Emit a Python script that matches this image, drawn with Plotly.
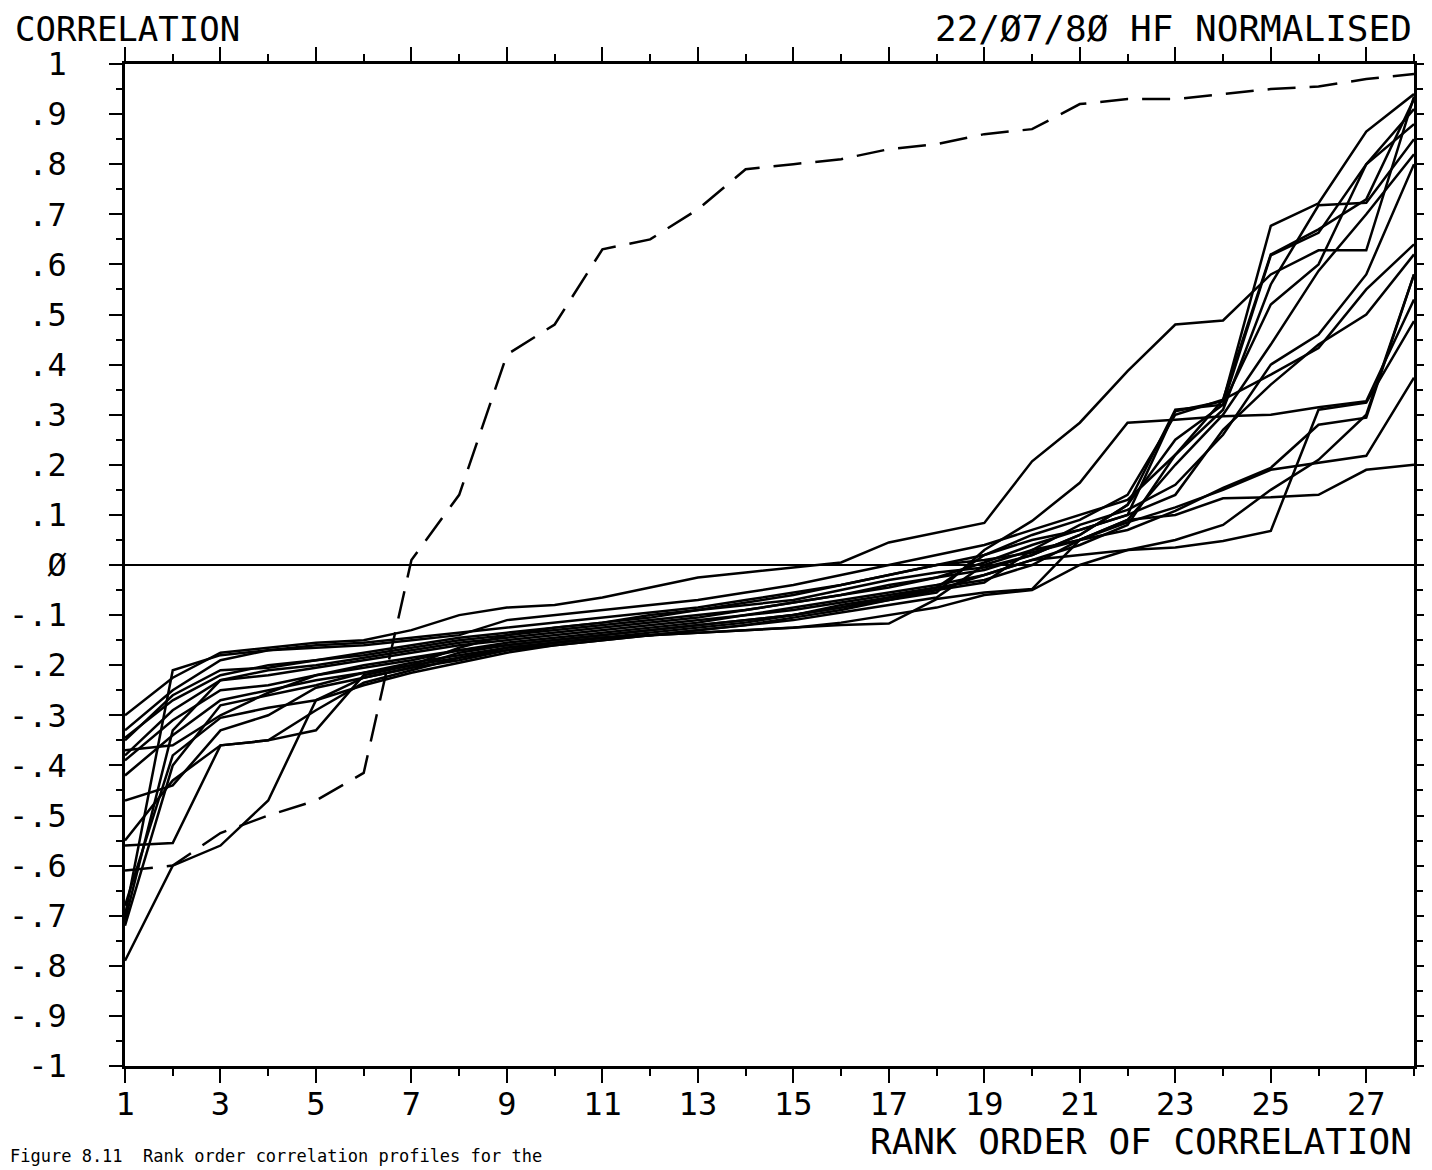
import plotly.graph_objects as go

ranks = list(range(1, 29))

# rank-ordered correlation profiles (solid lines)
line1 = [-0.30,-0.225,-0.175,-0.165,-0.155,-0.15,-0.13,-0.10,-0.085,-0.08,-0.065,-0.045,-0.025,-0.015,-0.005,0.005,0.045,0.065,
         0.084,0.207,0.284,0.387,0.48,0.488,0.58,0.628,0.628,0.935]
line2 = [-0.33,-0.25,-0.19,-0.17,-0.16,-0.155,-0.145,-0.135,-0.125,-0.115,-0.105,-0.095,-0.085,-0.07,-0.055,-0.04,-0.02,0.00,
         0.02,0.05,0.07,0.10,0.307,0.327,0.677,0.722,0.865,0.94]
line3 = [-0.35,-0.26,-0.21,-0.205,-0.19,-0.18,-0.165,-0.15,-0.14,-0.13,-0.12,-0.11,-0.10,-0.09,-0.075,-0.06,-0.045,-0.025,
         -0.01,0.02,0.06,0.12,0.31,0.32,0.618,0.663,0.80,0.91]
line4 = [-0.37,-0.36,-0.30,-0.255,-0.22,-0.20,-0.185,-0.17,-0.155,-0.145,-0.135,-0.125,-0.115,-0.10,-0.085,-0.07,-0.055,-0.04,
         -0.02,0.01,0.04,0.08,0.22,0.31,0.56,0.718,0.723,0.85]
line5 = [-0.38,-0.29,-0.23,-0.22,-0.205,-0.19,-0.175,-0.16,-0.15,-0.14,-0.13,-0.12,-0.11,-0.10,-0.09,-0.075,-0.06,-0.045,
         -0.03,0.00,0.05,0.09,0.20,0.30,0.44,0.587,0.70,0.82]
line6 = [-0.39,-0.31,-0.25,-0.24,-0.22,-0.205,-0.19,-0.17,-0.16,-0.15,-0.14,-0.13,-0.12,-0.11,-0.10,-0.08,-0.065,-0.05,
         -0.035,0.03,0.08,0.11,0.16,0.26,0.40,0.46,0.58,0.80]
line7 = [-0.42,-0.34,-0.27,-0.25,-0.23,-0.215,-0.195,-0.18,-0.165,-0.155,-0.145,-0.14,-0.13,-0.12,-0.105,-0.09,-0.07,-0.055,
         0.03,0.088,0.164,0.284,0.29,0.297,0.30,0.315,0.327,0.53]
line8 = [-0.47,-0.44,-0.33,-0.30,-0.245,-0.225,-0.205,-0.19,-0.17,-0.16,-0.15,-0.14,-0.13,-0.12,-0.11,-0.095,-0.08,-0.065,
         0.0,0.03,0.05,0.07,0.108,0.154,0.194,0.28,0.294,0.58]
line9 = [-0.55,-0.43,-0.36,-0.35,-0.29,-0.235,-0.21,-0.185,-0.165,-0.155,-0.145,-0.135,-0.125,-0.115,-0.10,-0.085,-0.07,-0.05,
         -0.02,0.01,0.02,0.03,0.035,0.048,0.068,0.31,0.324,0.487]
line10 = [-0.56,-0.555,-0.36,-0.35,-0.33,-0.22,-0.20,-0.165,-0.14,-0.125,-0.115,-0.105,-0.09,-0.075,-0.06,-0.04,-0.02,0.00,
          0.01,0.025,0.05,0.09,0.10,0.133,0.135,0.14,0.19,0.20]
line11 = [-0.68,-0.38,-0.305,-0.285,-0.27,-0.24,-0.215,-0.195,-0.175,-0.16,-0.15,-0.14,-0.135,-0.13,-0.125,-0.12,-0.117,-0.068,
          -0.055,-0.048,0.05,0.085,0.115,0.15,0.19,0.204,0.218,0.374]
line12 = [-0.70,-0.21,-0.18,-0.17,-0.165,-0.16,-0.15,-0.14,-0.11,-0.10,-0.09,-0.08,-0.07,-0.055,-0.04,-0.02,0.00,0.02,
          0.04,0.07,0.10,0.13,0.22,0.33,0.38,0.433,0.55,0.64]
line13 = [-0.71,-0.33,-0.23,-0.21,-0.20,-0.185,-0.17,-0.155,-0.145,-0.135,-0.125,-0.115,-0.105,-0.09,-0.075,-0.06,-0.04,-0.025,
          0.005,0.04,0.07,0.10,0.14,0.27,0.36,0.44,0.50,0.62]
line14 = [-0.72,-0.40,-0.28,-0.26,-0.24,-0.215,-0.20,-0.185,-0.17,-0.155,-0.145,-0.14,-0.135,-0.13,-0.125,-0.115,-0.10,-0.085,
          -0.06,-0.05,0.0,0.03,0.05,0.08,0.15,0.21,0.30,0.58]
line15 = [-0.79,-0.60,-0.56,-0.47,-0.27,-0.225,-0.205,-0.175,-0.16,-0.15,-0.14,-0.13,-0.12,-0.11,-0.10,-0.085,-0.065,-0.045,
          0.02,0.06,0.09,0.14,0.30,0.33,0.62,0.67,0.73,0.93]
line16 = [-0.345,-0.27,-0.22,-0.20,-0.19,-0.175,-0.16,-0.145,-0.135,-0.125,-0.115,-0.10,-0.09,-0.08,-0.07,-0.05,-0.03,-0.015,
          -0.005,0.02,0.06,0.12,0.25,0.32,0.52,0.60,0.80,0.88]

# dashed profile
dashed = [-0.61,-0.60,-0.535,-0.50,-0.47,-0.415,0.01,0.14,0.42,0.48,0.63,0.65,0.71,0.79,0.80,0.81,0.83,0.84,
          0.86,0.87,0.92,0.93,0.93,0.94,0.95,0.955,0.97,0.98]

solid_lines = [line1, line2, line3, line4, line5, line6, line7, line8, line9, line10,
               line11, line12, line13, line14, line15, line16]

x_tickvals = list(range(1, 28, 2))
x_ticktext = [str(v) for v in x_tickvals]
y_tickvals = [round(-1 + 0.1 * i, 1) for i in range(21)]
y_ticktext = ["-1", "-.9", "-.8", "-.7", "-.6", "-.5", "-.4", "-.3", "-.2", "-.1", "\u00d8",
              ".1", ".2", ".3", ".4", ".5", ".6", ".7", ".8", ".9", "1"]

FONT = "DejaVu Sans Mono, Liberation Mono, monospace"

fig = go.Figure()
for ys in solid_lines:
    fig.add_trace(go.Scatter(x=ranks, y=ys, mode="lines",
                             line=dict(color="black", width=2.5), showlegend=False))
fig.add_trace(go.Scatter(x=ranks, y=dashed, mode="lines",
                         line=dict(color="black", width=2.5, dash="28px,14px"), showlegend=False))

fig.update_layout(
    width=1432, height=1170,
    margin=dict(l=117, r=26, t=56, b=112),
    paper_bgcolor="white", plot_bgcolor="white",
    font=dict(family=FONT, color="black", size=32),
    showlegend=False,
)
fig.update_xaxes(
    range=[1, 28], showgrid=False, zeroline=False, automargin=False,
    showline=True, linecolor="black", linewidth=2.5, mirror="allticks",
    ticks="outside", ticklen=14, tickwidth=2, tickcolor="black",
    tickvals=x_tickvals, ticktext=x_ticktext, ticklabelstandoff=-6,
    tickfont=dict(family=FONT, size=32, color="black"),
    minor=dict(tickvals=list(range(2, 29, 2)), ticks="outside", ticklen=7,
               tickwidth=2, tickcolor="black", showgrid=False),
)
fig.update_yaxes(
    range=[-1, 1], showgrid=False, automargin=False,
    zeroline=True, zerolinecolor="black", zerolinewidth=2,
    showline=True, linecolor="black", linewidth=2.5, mirror="allticks",
    ticks="outside", ticklen=13, tickwidth=2, tickcolor="black",
    tickvals=y_tickvals, ticktext=y_ticktext, ticklabelstandoff=36,
    tickfont=dict(family=FONT, size=32, color="black"),
    minor=dict(tick0=0, dtick=0.05, ticks="outside", ticklen=6,
               tickwidth=2, tickcolor="black", showgrid=False),
)

fig.add_annotation(text="CORRELATION", xref="paper", yref="paper",
                   x=-0.087, y=1.035, xanchor="left", yanchor="middle",
                   showarrow=False, font=dict(family=FONT, size=34, color="black"))
fig.add_annotation(text="22/\u00d87/8\u00d8 HF NORMALISED", xref="paper", yref="paper",
                   x=1.0, y=1.035, xanchor="right", yanchor="middle",
                   showarrow=False, font=dict(family=FONT, size=36, color="black"))
fig.add_annotation(text="RANK ORDER OF CORRELATION", xref="paper", yref="paper",
                   x=1.0, y=-0.075, xanchor="right", yanchor="middle",
                   showarrow=False, font=dict(family=FONT, size=36, color="black"))
fig.add_annotation(text="Figure 8.11  Rank order correlation profiles for the", xref="paper", yref="paper",
                   x=-0.0908, y=-0.1015, xanchor="left", yanchor="bottom",
                   showarrow=False, font=dict(family=FONT, size=17, color="black"))

fig.write_html("out.html")
